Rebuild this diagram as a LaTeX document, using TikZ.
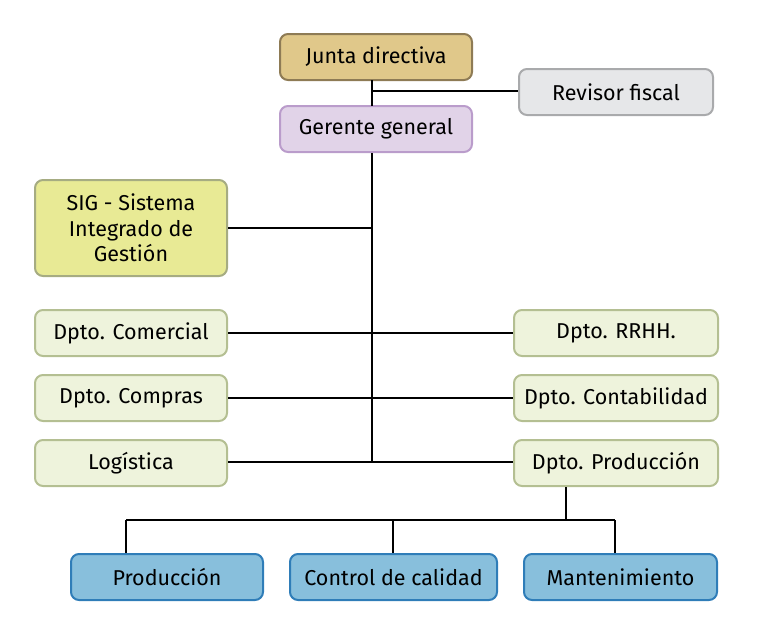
\documentclass[tikz,border=0pt]{standalone}
\usepackage{fontspec}
\setmainfont{Fira Sans}
\usetikzlibrary{calc}
\definecolor{juntaF}{HTML}{E0C88A}
\definecolor{juntaD}{HTML}{8E7B55}
\definecolor{revF}{HTML}{E6E7E9}
\definecolor{revD}{HTML}{A9AAAC}
\definecolor{gerF}{HTML}{E1D3E8}
\definecolor{gerD}{HTML}{BA9CCB}
\definecolor{sigF}{HTML}{E8EA95}
\definecolor{sigD}{HTML}{A6AC82}
\definecolor{dptF}{HTML}{EEF3DC}
\definecolor{dptD}{HTML}{B4BF92}
\definecolor{subF}{HTML}{88BFDC}
\definecolor{subD}{HTML}{2F7DB8}
\tikzset{
  box/.style={draw, line width=2pt, rounded corners=8pt, inner sep=0pt, align=center,
    font=\fontsize{21.5}{25.5}\selectfont, text=black},
  junta/.style={box, fill=juntaF, draw=juntaD},
  rev/.style={box, fill=revF, draw=revD},
  ger/.style={box, fill=gerF, draw=gerD},
  sig/.style={box, fill=sigF, draw=sigD},
  dpt/.style={box, fill=dptF, draw=dptD},
  sub/.style={box, fill=subF, draw=subD},
  conn/.style={line width=2pt, draw=black}
}
\begin{document}
\begin{tikzpicture}[x=1pt,y=-1pt]
\useasboundingbox (0,0) rectangle (776,637);
\node[junta, minimum width=192pt, minimum height=46pt] (junta) at (376,57) {Junta directiva};
\node[rev, minimum width=194pt, minimum height=46pt] (rev) at (616,92) {Revisor fiscal};
\node[ger, minimum width=192pt, minimum height=46pt] (ger) at (376,129) {Gerente general};
\node[sig, minimum width=192pt, minimum height=96pt] (sig) at (131,228) {SIG - Sistema\\Integrado de\\Gestión};
\node[dpt, minimum width=192pt, minimum height=46pt] (com) at (131,333) {Dpto. Comercial};
\node[dpt, minimum width=204pt, minimum height=46pt] (rrhh) at (616,333) {Dpto. RRHH.};
\node[dpt, minimum width=192pt, minimum height=46pt] (compras) at (131,398) {Dpto. Compras};
\node[dpt, minimum width=204pt, minimum height=46pt] (conta) at (616,398) {Dpto. Contabilidad};
\node[dpt, minimum width=192pt, minimum height=46pt] (log) at (131,463) {Logística};
\node[dpt, minimum width=204pt, minimum height=46pt] (prod) at (616,463) {Dpto. Producción};
\node[sub, minimum width=192pt, minimum height=46pt] (produccion) at (167,577) {Producción};
\node[sub, minimum width=207pt, minimum height=46pt] (calidad) at (393.5,577) {Control de calidad};
\node[sub, minimum width=193pt, minimum height=46pt] (mant) at (620.5,577) {Mantenimiento};
\coordinate (t1) at (372,91);
\coordinate (tbot) at (372,462);
\coordinate (pb) at (566,520);
\draw[conn] (372,80) -- (372,106);
\draw[conn] (t1) -- (rev.west |- t1);
\draw[conn] (ger.south -| tbot) -- (tbot);
\draw[conn] (sig.east) -- (sig.east -| tbot);
\draw[conn] (com.east) -- (rrhh.west);
\draw[conn] (compras.east) -- (conta.west);
\draw[conn] (log.east |- tbot) -- (prod.west |- tbot);
\draw[conn] (prod.south -| pb) -- (pb);
\draw[conn] (126,520) -- (615,520);
\draw[conn] (126,520) -- (produccion.north -| 126,0);
\draw[conn] (393,520) -- (calidad.north -| 393,0);
\draw[conn] (615,520) -- (mant.north -| 615,0);
\end{tikzpicture}
\end{document}
